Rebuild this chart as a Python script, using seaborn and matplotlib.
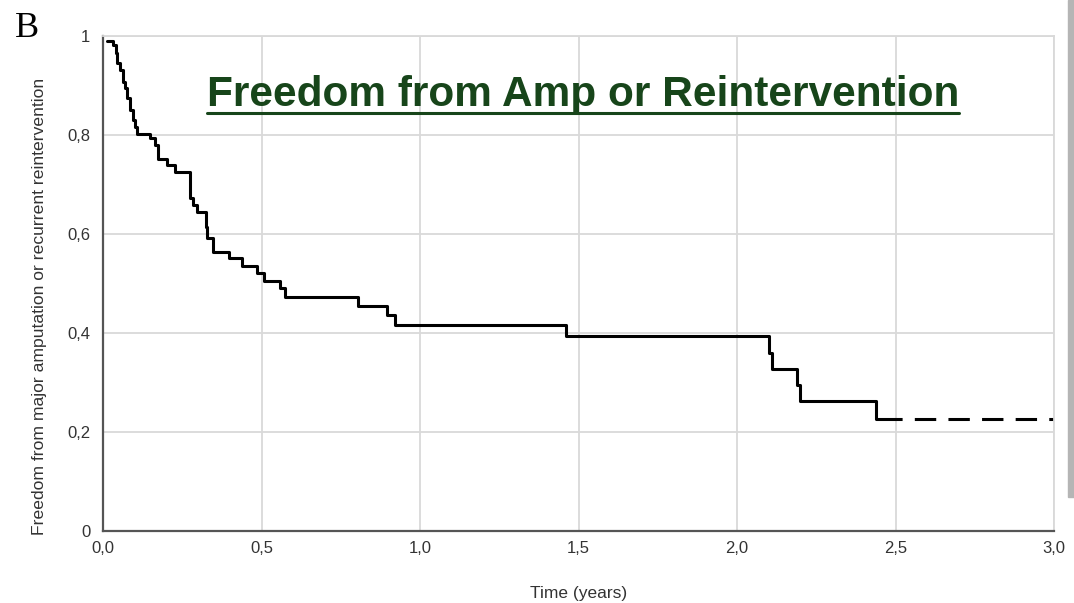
import numpy as np
import pandas as pd
import seaborn as sns
import matplotlib.pyplot as plt
from matplotlib.lines import Line2D
from matplotlib.patches import Rectangle

# Kaplan-Meier steps (time in years, survival after the step)
times = [0.012, 0.033, 0.040, 0.045, 0.054, 0.062, 0.069, 0.077, 0.085, 0.096,
         0.101, 0.108, 0.148, 0.164, 0.175, 0.201, 0.227, 0.274, 0.283, 0.295,
         0.325, 0.329, 0.348, 0.398, 0.440, 0.485, 0.509, 0.558, 0.574, 0.805,
         0.897, 0.921, 1.462, 2.100, 2.110, 2.190, 2.200, 2.437, 2.500]
survival = [0.990, 0.982, 0.965, 0.945, 0.931, 0.908, 0.894, 0.874, 0.851, 0.830,
            0.817, 0.803, 0.793, 0.780, 0.752, 0.739, 0.726, 0.672, 0.659, 0.645,
            0.615, 0.591, 0.564, 0.551, 0.535, 0.521, 0.506, 0.490, 0.473, 0.455,
            0.436, 0.416, 0.394, 0.359, 0.327, 0.295, 0.263, 0.226, 0.226]
tail_times = [2.5, 3.0]

x_ticks = [0, 0.5, 1.0, 1.5, 2.0, 2.5, 3.0]
x_labels = ['0,0', '0,5', '1,0', '1,5', '2,0', '2,5', '3,0']
y_ticks = [0, 0.2, 0.4, 0.6, 0.8, 1.0]
y_labels = ['0', '0,2', '0,4', '0,6', '0,8', '1']

sns.set_style("whitegrid")
plt.rcParams['font.family'] = ['Liberation Sans', 'DejaVu Sans']

fig = plt.figure(figsize=(10.74, 6.03), dpi=100)
ax = fig.add_axes([0.0959, 0.1194, 0.8855, 0.8209])

km = pd.DataFrame({'time': times, 'surv': survival})
sns.lineplot(data=km, x='time', y='surv', drawstyle='steps-post',
             color='black', lw=2.2, ax=ax)
tail = pd.DataFrame({'time': tail_times, 'surv': [survival[-1]] * len(tail_times)})
sns.lineplot(data=tail, x='time', y='surv', color='black', lw=2.2,
             linestyle=(5, (7, 4)), ax=ax)

ax.set_xlim(0, 3)
ax.set_ylim(0, 1)
ax.set_xticks(x_ticks)
ax.set_xticklabels(x_labels)
ax.set_yticks(y_ticks)
ax.set_yticklabels(y_labels)
ax.grid(True, color='#d9d9d9', lw=1.3)
for s in ['left', 'bottom']:
    ax.spines[s].set_color('#555555')
    ax.spines[s].set_linewidth(1.6)
for s in ['top', 'right']:
    ax.spines[s].set_color('#d9d9d9')
    ax.spines[s].set_linewidth(1.3)
ax.tick_params(axis='x', length=0, pad=7, labelsize=12, labelcolor='#333333')
ax.tick_params(axis='y', length=0, pad=9, labelsize=12, labelcolor='#333333')
ax.set_xlabel('Time (years)', fontsize=12.5, color='#333333', labelpad=22)
ax.set_ylabel('')

fig.text(40 / 1074, 1 - 306 / 603,
         'Freedom from major amputation or recurrent reintervention',
         rotation=90, ha='center', va='center', fontsize=12.6, color='#333333')

title = fig.text(583 / 1074, 1 - 106 / 603, 'Freedom from Amp or Reintervention',
                 ha='center', va='baseline', fontsize=30.5, fontweight='bold',
                 color='#17451a')
fig.text(15 / 1074, 1 - 37 / 603, 'B', family='Liberation Serif',
         fontsize=26, va='baseline', color='black')

# underline under the title
fig.canvas.draw()
bb = title.get_window_extent()
W, H = fig.get_size_inches() * fig.dpi
uy = 1 - 113 / 603
fig.add_artist(Line2D([bb.x0 / W, bb.x1 / W], [uy, uy], color='#17451a',
                      lw=2.2, transform=fig.transFigure))

fig.patches.append(Rectangle((1068 / 1074, 1 - 497 / 603), 6 / 1074, 497 / 603,
                             transform=fig.transFigure, color='#b5b5b5'))

fig.savefig('out.png', dpi=100)
